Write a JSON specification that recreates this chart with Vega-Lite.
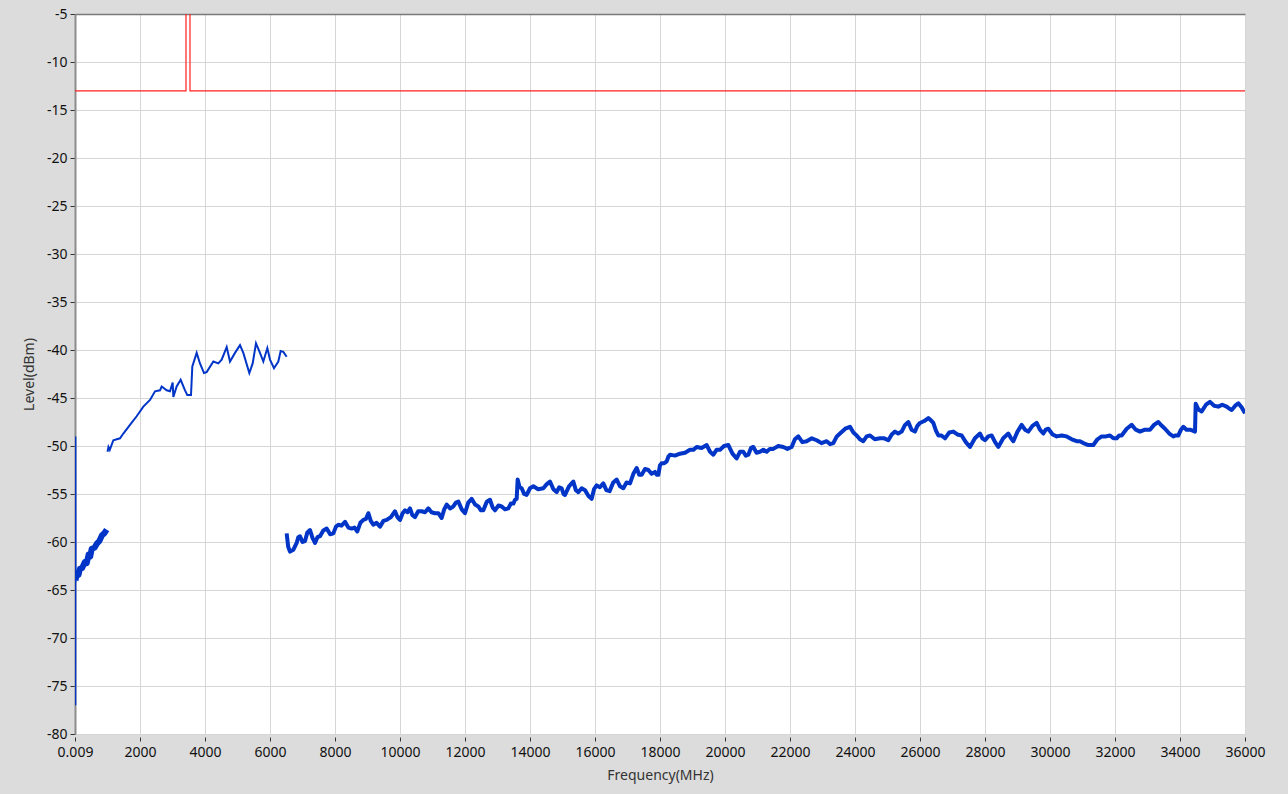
{
  "$schema": "https://vega.github.io/schema/vega-lite/v6.json",
  "width": 1170,
  "height": 720,
  "autosize": "none",
  "padding": {"left": 75, "top": 14, "right": 43, "bottom": 60},
  "background": "#dcdcdc",
  "config": {
    "view": {"fill": "white", "stroke": null},
    "font": "Noto Sans",
    "axis": {
      "labelFont": "Noto Sans",
      "titleFont": "Noto Sans",
      "labelFontSize": 14,
      "labelColor": "#111111",
      "titleFontSize": 14,
      "titleFontWeight": "normal",
      "titleColor": "#333333",
      "tickColor": "#333333",
      "gridColor": "#d6d6d6",
      "gridWidth": 1
    }
  },
  "datasets": {
    "limit": [
      {"i": 0, "f": 0.009, "lvl": -13},
      {"i": 1, "f": 3415, "lvl": -13},
      {"i": 2, "f": 3415, "lvl": 20},
      {"i": 3, "f": 3538, "lvl": 20},
      {"i": 4, "f": 3538, "lvl": -13},
      {"i": 5, "f": 36000, "lvl": -13}
    ],
    "trace": [
      {"seg": 0, "f": 0.009, "lvl": -72},
      {"seg": 0, "f": 3, "lvl": -75.5},
      {"seg": 0, "f": 6, "lvl": -71.8},
      {"seg": 0, "f": 9, "lvl": -77},
      {"seg": 0, "f": 12, "lvl": -49},
      {"seg": 0, "f": 16, "lvl": -64.2},
      {"seg": 1, "f": 16, "lvl": -64.0},
      {"seg": 1, "f": 60, "lvl": -63.2},
      {"seg": 1, "f": 110, "lvl": -63.4},
      {"seg": 1, "f": 150, "lvl": -62.8},
      {"seg": 1, "f": 220, "lvl": -62.7},
      {"seg": 1, "f": 300, "lvl": -62.1},
      {"seg": 1, "f": 360, "lvl": -62.2},
      {"seg": 1, "f": 420, "lvl": -61.3},
      {"seg": 1, "f": 470, "lvl": -61.5},
      {"seg": 1, "f": 513, "lvl": -60.7},
      {"seg": 1, "f": 600, "lvl": -60.6},
      {"seg": 1, "f": 667, "lvl": -60.2},
      {"seg": 1, "f": 750, "lvl": -59.9},
      {"seg": 1, "f": 830, "lvl": -59.3},
      {"seg": 1, "f": 900, "lvl": -59.1},
      {"seg": 1, "f": 975, "lvl": -58.7},
      {"seg": 2, "f": 1000, "lvl": -50.6},
      {"seg": 2, "f": 1030, "lvl": -50.1},
      {"seg": 2, "f": 1070, "lvl": -50.4},
      {"seg": 2, "f": 1180, "lvl": -49.4},
      {"seg": 2, "f": 1385, "lvl": -49.2},
      {"seg": 2, "f": 1487, "lvl": -48.7},
      {"seg": 2, "f": 1692, "lvl": -47.8},
      {"seg": 2, "f": 1897, "lvl": -46.9},
      {"seg": 2, "f": 2103, "lvl": -45.9},
      {"seg": 2, "f": 2308, "lvl": -45.2},
      {"seg": 2, "f": 2462, "lvl": -44.3},
      {"seg": 2, "f": 2615, "lvl": -44.2},
      {"seg": 2, "f": 2667, "lvl": -43.8},
      {"seg": 2, "f": 2821, "lvl": -44.2},
      {"seg": 2, "f": 2923, "lvl": -44.3},
      {"seg": 2, "f": 3005, "lvl": -43.4},
      {"seg": 2, "f": 3026, "lvl": -44.9},
      {"seg": 2, "f": 3128, "lvl": -43.8},
      {"seg": 2, "f": 3251, "lvl": -43.1},
      {"seg": 2, "f": 3385, "lvl": -44.2},
      {"seg": 2, "f": 3456, "lvl": -44.7},
      {"seg": 2, "f": 3569, "lvl": -44.7},
      {"seg": 2, "f": 3610, "lvl": -41.7},
      {"seg": 2, "f": 3744, "lvl": -40.3},
      {"seg": 2, "f": 3846, "lvl": -41.4},
      {"seg": 2, "f": 3969, "lvl": -42.4},
      {"seg": 2, "f": 4051, "lvl": -42.3},
      {"seg": 2, "f": 4256, "lvl": -41.2},
      {"seg": 2, "f": 4410, "lvl": -41.4},
      {"seg": 2, "f": 4513, "lvl": -41.0},
      {"seg": 2, "f": 4667, "lvl": -39.7},
      {"seg": 2, "f": 4769, "lvl": -41.2},
      {"seg": 2, "f": 4923, "lvl": -40.3},
      {"seg": 2, "f": 5077, "lvl": -39.5},
      {"seg": 2, "f": 5179, "lvl": -40.3},
      {"seg": 2, "f": 5364, "lvl": -42.4},
      {"seg": 2, "f": 5467, "lvl": -41.4},
      {"seg": 2, "f": 5569, "lvl": -39.3},
      {"seg": 2, "f": 5692, "lvl": -40.3},
      {"seg": 2, "f": 5795, "lvl": -41.2},
      {"seg": 2, "f": 5918, "lvl": -39.8},
      {"seg": 2, "f": 6000, "lvl": -41.0},
      {"seg": 2, "f": 6123, "lvl": -41.9},
      {"seg": 2, "f": 6256, "lvl": -41.2},
      {"seg": 2, "f": 6328, "lvl": -40.1},
      {"seg": 2, "f": 6410, "lvl": -40.2},
      {"seg": 2, "f": 6513, "lvl": -40.7},
      {"seg": 3, "f": 6513, "lvl": -59.1},
      {"seg": 3, "f": 6560, "lvl": -60.5},
      {"seg": 3, "f": 6615, "lvl": -61.0},
      {"seg": 3, "f": 6720, "lvl": -60.8},
      {"seg": 3, "f": 6821, "lvl": -60.1},
      {"seg": 3, "f": 6870, "lvl": -59.5},
      {"seg": 3, "f": 6923, "lvl": -59.4},
      {"seg": 3, "f": 7000, "lvl": -60.0},
      {"seg": 3, "f": 7077, "lvl": -59.9},
      {"seg": 3, "f": 7150, "lvl": -59.0},
      {"seg": 3, "f": 7231, "lvl": -58.75},
      {"seg": 3, "f": 7310, "lvl": -59.6},
      {"seg": 3, "f": 7385, "lvl": -60.1},
      {"seg": 3, "f": 7460, "lvl": -59.5},
      {"seg": 3, "f": 7538, "lvl": -59.4},
      {"seg": 3, "f": 7640, "lvl": -58.8},
      {"seg": 3, "f": 7744, "lvl": -58.6},
      {"seg": 3, "f": 7850, "lvl": -59.2},
      {"seg": 3, "f": 7949, "lvl": -59.1},
      {"seg": 3, "f": 8030, "lvl": -58.4},
      {"seg": 3, "f": 8103, "lvl": -58.2},
      {"seg": 3, "f": 8200, "lvl": -58.3},
      {"seg": 3, "f": 8308, "lvl": -57.9},
      {"seg": 3, "f": 8410, "lvl": -58.5},
      {"seg": 3, "f": 8513, "lvl": -58.6},
      {"seg": 3, "f": 8600, "lvl": -58.5},
      {"seg": 3, "f": 8687, "lvl": -58.9},
      {"seg": 3, "f": 8780, "lvl": -58.0},
      {"seg": 3, "f": 8872, "lvl": -57.7},
      {"seg": 3, "f": 8950, "lvl": -57.6},
      {"seg": 3, "f": 9026, "lvl": -57.0},
      {"seg": 3, "f": 9100, "lvl": -57.8},
      {"seg": 3, "f": 9179, "lvl": -58.2},
      {"seg": 3, "f": 9280, "lvl": -58.0},
      {"seg": 3, "f": 9385, "lvl": -58.4},
      {"seg": 3, "f": 9490, "lvl": -57.8},
      {"seg": 3, "f": 9590, "lvl": -57.7},
      {"seg": 3, "f": 9720, "lvl": -57.4},
      {"seg": 3, "f": 9846, "lvl": -56.8},
      {"seg": 3, "f": 9920, "lvl": -57.4},
      {"seg": 3, "f": 10000, "lvl": -57.7},
      {"seg": 3, "f": 10080, "lvl": -57.0},
      {"seg": 3, "f": 10154, "lvl": -56.7},
      {"seg": 3, "f": 10230, "lvl": -56.9},
      {"seg": 3, "f": 10308, "lvl": -56.5},
      {"seg": 3, "f": 10380, "lvl": -57.2},
      {"seg": 3, "f": 10462, "lvl": -57.4},
      {"seg": 3, "f": 10560, "lvl": -56.8},
      {"seg": 3, "f": 10667, "lvl": -56.8},
      {"seg": 3, "f": 10770, "lvl": -56.9},
      {"seg": 3, "f": 10872, "lvl": -56.5},
      {"seg": 3, "f": 10970, "lvl": -56.9},
      {"seg": 3, "f": 11077, "lvl": -57.0},
      {"seg": 3, "f": 11180, "lvl": -57.0},
      {"seg": 3, "f": 11282, "lvl": -57.5},
      {"seg": 3, "f": 11360, "lvl": -56.6},
      {"seg": 3, "f": 11436, "lvl": -56.1},
      {"seg": 3, "f": 11540, "lvl": -56.5},
      {"seg": 3, "f": 11641, "lvl": -56.3},
      {"seg": 3, "f": 11720, "lvl": -55.9},
      {"seg": 3, "f": 11795, "lvl": -55.8},
      {"seg": 3, "f": 11900, "lvl": -56.6},
      {"seg": 3, "f": 12000, "lvl": -57.0},
      {"seg": 3, "f": 12100, "lvl": -55.9},
      {"seg": 3, "f": 12205, "lvl": -55.5},
      {"seg": 3, "f": 12310, "lvl": -56.1},
      {"seg": 3, "f": 12410, "lvl": -56.3},
      {"seg": 3, "f": 12490, "lvl": -56.7},
      {"seg": 3, "f": 12564, "lvl": -56.7},
      {"seg": 3, "f": 12670, "lvl": -55.8},
      {"seg": 3, "f": 12769, "lvl": -55.6},
      {"seg": 3, "f": 12850, "lvl": -56.4},
      {"seg": 3, "f": 12923, "lvl": -56.7},
      {"seg": 3, "f": 13030, "lvl": -56.2},
      {"seg": 3, "f": 13128, "lvl": -56.3},
      {"seg": 3, "f": 13230, "lvl": -56.6},
      {"seg": 3, "f": 13333, "lvl": -56.5},
      {"seg": 3, "f": 13410, "lvl": -56.0},
      {"seg": 3, "f": 13487, "lvl": -56.0},
      {"seg": 3, "f": 13540, "lvl": -55.6},
      {"seg": 3, "f": 13590, "lvl": -55.5},
      {"seg": 3, "f": 13620, "lvl": -53.5},
      {"seg": 3, "f": 13680, "lvl": -54.3},
      {"seg": 3, "f": 13744, "lvl": -54.4},
      {"seg": 3, "f": 13820, "lvl": -55.0},
      {"seg": 3, "f": 13897, "lvl": -55.1},
      {"seg": 3, "f": 14000, "lvl": -54.4},
      {"seg": 3, "f": 14103, "lvl": -54.2},
      {"seg": 3, "f": 14250, "lvl": -54.5},
      {"seg": 3, "f": 14410, "lvl": -54.4},
      {"seg": 3, "f": 14510, "lvl": -54.0},
      {"seg": 3, "f": 14615, "lvl": -53.7},
      {"seg": 3, "f": 14720, "lvl": -54.5},
      {"seg": 3, "f": 14821, "lvl": -54.8},
      {"seg": 3, "f": 14900, "lvl": -54.3},
      {"seg": 3, "f": 14974, "lvl": -54.4},
      {"seg": 3, "f": 15030, "lvl": -55.0},
      {"seg": 3, "f": 15077, "lvl": -55.1},
      {"seg": 3, "f": 15200, "lvl": -54.2},
      {"seg": 3, "f": 15333, "lvl": -53.7},
      {"seg": 3, "f": 15410, "lvl": -54.6},
      {"seg": 3, "f": 15487, "lvl": -54.8},
      {"seg": 3, "f": 15590, "lvl": -54.4},
      {"seg": 3, "f": 15692, "lvl": -54.6},
      {"seg": 3, "f": 15800, "lvl": -55.2},
      {"seg": 3, "f": 15897, "lvl": -55.5},
      {"seg": 3, "f": 15970, "lvl": -54.5},
      {"seg": 3, "f": 16051, "lvl": -54.1},
      {"seg": 3, "f": 16150, "lvl": -54.3},
      {"seg": 3, "f": 16256, "lvl": -53.9},
      {"seg": 3, "f": 16350, "lvl": -54.6},
      {"seg": 3, "f": 16450, "lvl": -54.7},
      {"seg": 3, "f": 16560, "lvl": -53.8},
      {"seg": 3, "f": 16667, "lvl": -53.5},
      {"seg": 3, "f": 16770, "lvl": -54.2},
      {"seg": 3, "f": 16872, "lvl": -54.4},
      {"seg": 3, "f": 16970, "lvl": -53.8},
      {"seg": 3, "f": 17077, "lvl": -53.9},
      {"seg": 3, "f": 17180, "lvl": -52.9},
      {"seg": 3, "f": 17282, "lvl": -52.3},
      {"seg": 3, "f": 17360, "lvl": -53.0},
      {"seg": 3, "f": 17436, "lvl": -53.0},
      {"seg": 3, "f": 17540, "lvl": -52.4},
      {"seg": 3, "f": 17641, "lvl": -52.5},
      {"seg": 3, "f": 17740, "lvl": -52.9},
      {"seg": 3, "f": 17846, "lvl": -52.7},
      {"seg": 3, "f": 17900, "lvl": -53.0},
      {"seg": 3, "f": 17949, "lvl": -53.0},
      {"seg": 3, "f": 18000, "lvl": -52.0},
      {"seg": 3, "f": 18051, "lvl": -51.8},
      {"seg": 3, "f": 18130, "lvl": -51.8},
      {"seg": 3, "f": 18205, "lvl": -51.6},
      {"seg": 3, "f": 18260, "lvl": -51.1},
      {"seg": 3, "f": 18308, "lvl": -50.9},
      {"seg": 3, "f": 18460, "lvl": -51.0},
      {"seg": 3, "f": 18615, "lvl": -50.8},
      {"seg": 3, "f": 18770, "lvl": -50.7},
      {"seg": 3, "f": 18923, "lvl": -50.4},
      {"seg": 3, "f": 19030, "lvl": -50.4},
      {"seg": 3, "f": 19128, "lvl": -50.1},
      {"seg": 3, "f": 19280, "lvl": -50.2},
      {"seg": 3, "f": 19436, "lvl": -49.9},
      {"seg": 3, "f": 19540, "lvl": -50.6},
      {"seg": 3, "f": 19641, "lvl": -50.9},
      {"seg": 3, "f": 19740, "lvl": -50.4},
      {"seg": 3, "f": 19846, "lvl": -50.4},
      {"seg": 3, "f": 19970, "lvl": -50.0},
      {"seg": 3, "f": 20103, "lvl": -49.9},
      {"seg": 3, "f": 20230, "lvl": -50.8},
      {"seg": 3, "f": 20359, "lvl": -51.3},
      {"seg": 3, "f": 20460, "lvl": -50.6},
      {"seg": 3, "f": 20564, "lvl": -50.6},
      {"seg": 3, "f": 20640, "lvl": -51.0},
      {"seg": 3, "f": 20718, "lvl": -50.9},
      {"seg": 3, "f": 20800, "lvl": -50.2},
      {"seg": 3, "f": 20872, "lvl": -50.1},
      {"seg": 3, "f": 20970, "lvl": -50.7},
      {"seg": 3, "f": 21077, "lvl": -50.6},
      {"seg": 3, "f": 21180, "lvl": -50.4},
      {"seg": 3, "f": 21282, "lvl": -50.6},
      {"seg": 3, "f": 21380, "lvl": -50.3},
      {"seg": 3, "f": 21487, "lvl": -50.3},
      {"seg": 3, "f": 21640, "lvl": -50.0},
      {"seg": 3, "f": 21795, "lvl": -50.1},
      {"seg": 3, "f": 21920, "lvl": -50.3},
      {"seg": 3, "f": 22051, "lvl": -50.1},
      {"seg": 3, "f": 22150, "lvl": -49.3},
      {"seg": 3, "f": 22256, "lvl": -49.0},
      {"seg": 3, "f": 22380, "lvl": -49.6},
      {"seg": 3, "f": 22513, "lvl": -49.5},
      {"seg": 3, "f": 22670, "lvl": -49.2},
      {"seg": 3, "f": 22821, "lvl": -49.4},
      {"seg": 3, "f": 22970, "lvl": -49.7},
      {"seg": 3, "f": 23128, "lvl": -49.5},
      {"seg": 3, "f": 23230, "lvl": -49.8},
      {"seg": 3, "f": 23333, "lvl": -49.7},
      {"seg": 3, "f": 23440, "lvl": -49.0},
      {"seg": 3, "f": 23538, "lvl": -48.7},
      {"seg": 3, "f": 23700, "lvl": -48.2},
      {"seg": 3, "f": 23846, "lvl": -48.0},
      {"seg": 3, "f": 23950, "lvl": -48.6},
      {"seg": 3, "f": 24051, "lvl": -48.9},
      {"seg": 3, "f": 24150, "lvl": -49.3},
      {"seg": 3, "f": 24256, "lvl": -49.5},
      {"seg": 3, "f": 24360, "lvl": -49.0},
      {"seg": 3, "f": 24462, "lvl": -48.9},
      {"seg": 3, "f": 24610, "lvl": -49.3},
      {"seg": 3, "f": 24769, "lvl": -49.2},
      {"seg": 3, "f": 24900, "lvl": -49.2},
      {"seg": 3, "f": 25026, "lvl": -49.4},
      {"seg": 3, "f": 25130, "lvl": -48.8},
      {"seg": 3, "f": 25231, "lvl": -48.5},
      {"seg": 3, "f": 25330, "lvl": -48.7},
      {"seg": 3, "f": 25436, "lvl": -48.5},
      {"seg": 3, "f": 25540, "lvl": -47.8},
      {"seg": 3, "f": 25641, "lvl": -47.5},
      {"seg": 3, "f": 25740, "lvl": -48.3},
      {"seg": 3, "f": 25846, "lvl": -48.5},
      {"seg": 3, "f": 25920, "lvl": -47.9},
      {"seg": 3, "f": 26000, "lvl": -47.6},
      {"seg": 3, "f": 26130, "lvl": -47.4},
      {"seg": 3, "f": 26256, "lvl": -47.1},
      {"seg": 3, "f": 26330, "lvl": -47.3},
      {"seg": 3, "f": 26410, "lvl": -47.6},
      {"seg": 3, "f": 26490, "lvl": -48.4},
      {"seg": 3, "f": 26564, "lvl": -48.9},
      {"seg": 3, "f": 26660, "lvl": -48.9},
      {"seg": 3, "f": 26769, "lvl": -49.2},
      {"seg": 3, "f": 26900, "lvl": -48.6},
      {"seg": 3, "f": 27026, "lvl": -48.5},
      {"seg": 3, "f": 27150, "lvl": -48.8},
      {"seg": 3, "f": 27282, "lvl": -48.9},
      {"seg": 3, "f": 27410, "lvl": -49.6},
      {"seg": 3, "f": 27538, "lvl": -50.1},
      {"seg": 3, "f": 27690, "lvl": -49.2},
      {"seg": 3, "f": 27846, "lvl": -48.7},
      {"seg": 3, "f": 27920, "lvl": -49.2},
      {"seg": 3, "f": 28000, "lvl": -49.4},
      {"seg": 3, "f": 28100, "lvl": -49.0},
      {"seg": 3, "f": 28205, "lvl": -48.9},
      {"seg": 3, "f": 28310, "lvl": -49.6},
      {"seg": 3, "f": 28410, "lvl": -50.1},
      {"seg": 3, "f": 28560, "lvl": -49.2},
      {"seg": 3, "f": 28718, "lvl": -48.7},
      {"seg": 3, "f": 28800, "lvl": -49.2},
      {"seg": 3, "f": 28872, "lvl": -49.5},
      {"seg": 3, "f": 29000, "lvl": -48.5},
      {"seg": 3, "f": 29128, "lvl": -47.8},
      {"seg": 3, "f": 29230, "lvl": -48.3},
      {"seg": 3, "f": 29333, "lvl": -48.5},
      {"seg": 3, "f": 29460, "lvl": -47.9},
      {"seg": 3, "f": 29590, "lvl": -47.6},
      {"seg": 3, "f": 29690, "lvl": -48.3},
      {"seg": 3, "f": 29795, "lvl": -48.7},
      {"seg": 3, "f": 29870, "lvl": -48.3},
      {"seg": 3, "f": 29949, "lvl": -48.2},
      {"seg": 3, "f": 30080, "lvl": -48.8},
      {"seg": 3, "f": 30205, "lvl": -49.0},
      {"seg": 3, "f": 30360, "lvl": -48.9},
      {"seg": 3, "f": 30513, "lvl": -49.0},
      {"seg": 3, "f": 30670, "lvl": -49.3},
      {"seg": 3, "f": 30821, "lvl": -49.5},
      {"seg": 3, "f": 30920, "lvl": -49.5},
      {"seg": 3, "f": 31026, "lvl": -49.7},
      {"seg": 3, "f": 31180, "lvl": -49.9},
      {"seg": 3, "f": 31333, "lvl": -49.9},
      {"seg": 3, "f": 31460, "lvl": -49.3},
      {"seg": 3, "f": 31590, "lvl": -49.0},
      {"seg": 3, "f": 31720, "lvl": -49.0},
      {"seg": 3, "f": 31846, "lvl": -48.9},
      {"seg": 3, "f": 31950, "lvl": -49.2},
      {"seg": 3, "f": 32051, "lvl": -49.2},
      {"seg": 3, "f": 32130, "lvl": -48.9},
      {"seg": 3, "f": 32205, "lvl": -48.9},
      {"seg": 3, "f": 32360, "lvl": -48.2},
      {"seg": 3, "f": 32513, "lvl": -47.8},
      {"seg": 3, "f": 32640, "lvl": -48.3},
      {"seg": 3, "f": 32769, "lvl": -48.5},
      {"seg": 3, "f": 32920, "lvl": -48.3},
      {"seg": 3, "f": 33077, "lvl": -48.3},
      {"seg": 3, "f": 33200, "lvl": -47.8},
      {"seg": 3, "f": 33333, "lvl": -47.5},
      {"seg": 3, "f": 33440, "lvl": -47.9},
      {"seg": 3, "f": 33538, "lvl": -48.2},
      {"seg": 3, "f": 33670, "lvl": -48.7},
      {"seg": 3, "f": 33795, "lvl": -49.0},
      {"seg": 3, "f": 33870, "lvl": -48.9},
      {"seg": 3, "f": 33949, "lvl": -48.9},
      {"seg": 3, "f": 34030, "lvl": -48.3},
      {"seg": 3, "f": 34103, "lvl": -48.0},
      {"seg": 3, "f": 34200, "lvl": -48.3},
      {"seg": 3, "f": 34308, "lvl": -48.3},
      {"seg": 3, "f": 34390, "lvl": -48.4},
      {"seg": 3, "f": 34462, "lvl": -48.5},
      {"seg": 3, "f": 34482, "lvl": -45.6},
      {"seg": 3, "f": 34570, "lvl": -46.2},
      {"seg": 3, "f": 34667, "lvl": -46.4},
      {"seg": 3, "f": 34800, "lvl": -45.7},
      {"seg": 3, "f": 34923, "lvl": -45.4},
      {"seg": 3, "f": 35050, "lvl": -45.8},
      {"seg": 3, "f": 35179, "lvl": -45.9},
      {"seg": 3, "f": 35300, "lvl": -45.7},
      {"seg": 3, "f": 35436, "lvl": -45.9},
      {"seg": 3, "f": 35510, "lvl": -46.1},
      {"seg": 3, "f": 35590, "lvl": -46.25},
      {"seg": 3, "f": 35700, "lvl": -45.8},
      {"seg": 3, "f": 35795, "lvl": -45.55},
      {"seg": 3, "f": 35900, "lvl": -46.0},
      {"seg": 3, "f": 36000, "lvl": -46.6}
    ]
  },
  "layer": [
    {
      "data": {"name": "trace"},
      "transform": [{"filter": "datum.seg == 3"}],
      "mark": {"type": "line", "color": "#0035c8", "strokeWidth": 4, "strokeJoin": "round", "clip": true},
      "encoding": {
        "x": {
          "field": "f", "type": "quantitative",
          "scale": {"domain": [0.009, 36000], "nice": false, "zero": false},
          "axis": {
            "orient": "bottom",
            "values": [0.009, 2000, 4000, 6000, 8000, 10000, 12000, 14000, 16000, 18000, 20000, 22000, 24000, 26000, 28000, 30000, 32000, 34000, 36000],
            "labelExpr": "datum.value < 1 ? '0.009' : format(datum.value, 'd')",
            "title": "Frequency(MHz)",
            "domain": false,
            "offset": 3,
            "tickSize": 4,
            "labelPadding": 4,
            "titlePadding": 9,
            "labelFlush": false,
            "labelOverlap": false
          }
        },
        "y": {
          "field": "lvl", "type": "quantitative",
          "scale": {"domain": [-80, -5], "nice": false, "zero": false},
          "axis": {
            "values": [-80, -75, -70, -65, -60, -55, -50, -45, -40, -35, -30, -25, -20, -15, -10, -5],
            "labelExpr": "'' + datum.value",
            "title": "Level(dBm)",
            "domainColor": "#8c8c8c",
            "domainWidth": 2,
            "tickSize": 5,
            "labelPadding": 3,
            "titlePadding": 10,
            "labelFlush": false,
            "labelOverlap": false
          }
        }
      }
    },
    {
      "data": {"name": "trace"},
      "transform": [{"filter": "datum.seg == 1"}],
      "mark": {"type": "line", "color": "#0035c8", "strokeWidth": 6, "strokeJoin": "round", "clip": true},
      "encoding": {
        "x": {"field": "f", "type": "quantitative", "axis": null},
        "y": {"field": "lvl", "type": "quantitative"}
      }
    },
    {
      "data": {"name": "trace"},
      "transform": [{"filter": "datum.seg == 0 || datum.seg == 2"}],
      "mark": {"type": "line", "color": "#0035c8", "strokeWidth": 2, "clip": true},
      "encoding": {
        "x": {"field": "f", "type": "quantitative", "axis": null},
        "y": {"field": "lvl", "type": "quantitative"},
        "detail": {"field": "seg"}
      }
    },
    {
      "data": {"name": "limit"},
      "mark": {"type": "line", "color": "#ff2020", "strokeWidth": 1.2, "clip": true},
      "encoding": {
        "x": {
          "field": "f", "type": "quantitative",
          "axis": {"orient": "top", "labels": false, "ticks": false, "grid": false, "title": null, "domainColor": "#7a7a7a", "domainWidth": 1.5}
        },
        "y": {"field": "lvl", "type": "quantitative"},
        "order": {"field": "i"}
      }
    }
  ],
  "resolve": {"axis": {"x": "independent"}}
}
